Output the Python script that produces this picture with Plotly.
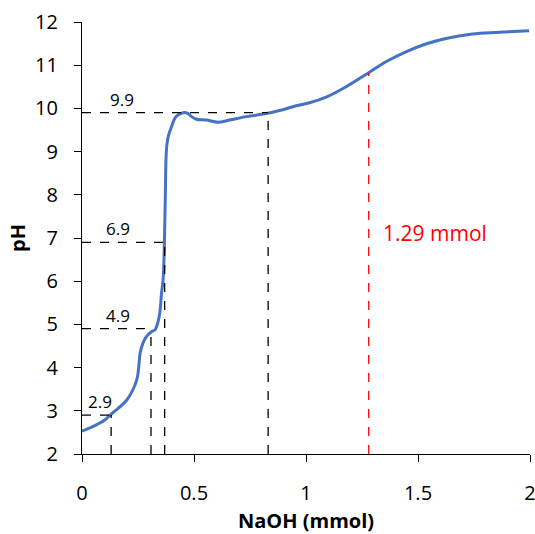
import plotly.graph_objects as go

# Titration curve
naoh = [0.0, 0.05, 0.10, 0.125, 0.16, 0.20, 0.244, 0.262, 0.285, 0.31, 0.325, 0.333, 0.347,
        0.355, 0.362, 0.368, 0.372, 0.377, 0.385, 0.40, 0.42, 0.451, 0.474, 0.489, 0.511,
        0.555, 0.607, 0.659, 0.734, 0.823, 0.882, 0.956, 1.016, 1.09, 1.179, 1.275, 1.357,
        1.446, 1.535, 1.625, 1.743, 1.862, 1.996]
ph = [2.53, 2.64, 2.78, 2.9, 3.05, 3.25, 3.71, 4.4, 4.7, 4.83, 4.87, 4.95, 5.26,
      5.72, 6.03, 6.9, 8.0, 9.04, 9.35, 9.58, 9.81, 9.9, 9.88, 9.81, 9.75,
      9.73, 9.68, 9.73, 9.81, 9.88, 9.95, 10.06, 10.13, 10.26, 10.5, 10.81, 11.08,
      11.31, 11.49, 11.62, 11.72, 11.76, 11.8]

# Marker lines (black dashed)
mark_x = [0.13, 0.308, 0.369, 0.831]
mark_y = [2.9, 4.9, 6.9, 9.9]
mark_labels = ["2.9", "4.9", "6.9", "9.9"]
label_x = [0.08, 0.16, 0.16, 0.18]

# Red end point line
red_x = 1.28
red_y = 10.82
red_label = "1.29 mmol"

FONT = "Open Sans, Liberation Sans"

fig = go.Figure()
fig.add_trace(go.Scatter(x=naoh, y=ph, mode="lines", line=dict(color="#4472C4", width=3),
                         line_shape="spline", showlegend=False, hoverinfo="skip"))

shapes = []
for xv, yv in zip(mark_x, mark_y):
    shapes.append(dict(type="line", x0=0, x1=xv, y0=yv, y1=yv, xref="x", yref="y",
                       line=dict(color="black", width=1.3, dash="dash")))
    shapes.append(dict(type="line", x0=xv, x1=xv, y0=2, y1=yv, xref="x", yref="y",
                       line=dict(color="black", width=1.3, dash="dash")))
shapes.append(dict(type="line", x0=red_x, x1=red_x, y0=2, y1=red_y, xref="x", yref="y",
                   line=dict(color="#FF0000", width=1.3, dash="dash")))

annotations = []
for lx, yv, t in zip(label_x, mark_y, mark_labels):
    annotations.append(dict(x=lx, y=yv, text=t, showarrow=False, yanchor="bottom",
                            xanchor="center", yshift=0,
                            font=dict(size=17, color="black", family=FONT)))
annotations.append(dict(x=1.577, y=7.12, text=red_label, showarrow=False,
                        font=dict(size=21, color="#FF0000", family=FONT)))

fig.update_layout(
    width=535, height=534,
    margin=dict(l=82, r=5, t=22, b=80),
    plot_bgcolor="white", paper_bgcolor="white",
    shapes=shapes, annotations=annotations,
    font=dict(family=FONT, size=18, color="black"),
)
fig.update_xaxes(range=[0, 2], tickvals=[0, 0.5, 1, 1.5, 2], ticktext=["0", "0.5", "1", "1.5", "2"],
                 showgrid=False, zeroline=False, showline=True, linecolor="black", linewidth=1.3,
                 ticks="outside", ticklen=7, tickcolor="black", ticklabeloverflow="allow",
                 ticklabelstandoff=14, tickfont=dict(size=20), automargin=False,
                 title=dict(text="<b>NaOH (mmol)</b>", font=dict(size=20), standoff=10))
fig.update_yaxes(range=[2, 12], dtick=1, showgrid=False, zeroline=False, showline=True,
                 linecolor="black", linewidth=1.3, ticks="outside", ticklen=7, tickcolor="black",
                 ticklabelstandoff=12, tickfont=dict(size=20), ticklabeloverflow="allow",
                 automargin=False,
                 title=dict(text="<b>pH</b>", font=dict(size=20), standoff=3))

fig.write_html("out.html")
